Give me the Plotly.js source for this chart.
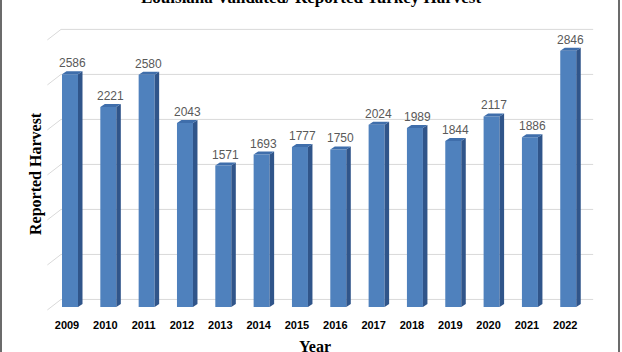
<!DOCTYPE html>
<html><head><meta charset="utf-8">
<script src="https://cdn.plot.ly/plotly-3.0.1.min.js"></script>
<style>html,body{margin:0;padding:0;background:#fff}#chart{width:622px;height:352px}</style>
</head><body><div id="chart"></div>
<script>
// ---- data ----
const years = ['2009','2010','2011','2012','2013','2014','2015','2016','2017','2018','2019','2020','2021','2022'];
const harvest = [2586, 2221, 2580, 2043, 1571, 1693, 1777, 1750, 2024, 1989, 1844, 2117, 1886, 2846];
const gridValues = [0, 500, 1000, 1500, 2000, 2500, 3000];
const chartTitle = 'Louisiana Validated/ Reported Turkey Harvest';
const yTitle = 'Reported Harvest';
const xTitle = 'Year';

// ---- geometry helpers ----
const W = 622, H = 352;
const M = {l: 47, r: 25, t: 27, b: 41};
const xRange = [-0.6, 13.75], yRange = [-45, 3110];
const plotW = W - M.l - M.r, plotH = H - M.t - M.b;
const PX_X = plotW / (xRange[1] - xRange[0]);
const PX_Y = plotH / (yRange[1] - yRange[0]);
const barW = 16 / PX_X;
const depthX = 4.5 / PX_X, depthY = 3 / PX_Y;
const pos = years.map((_, i) => i);

const sideX = [], sideY = [], topX = [], topY = [];
pos.forEach((p, i) => {
  const v = harvest[i];
  const r = p + barW / 2, l = p - barW / 2;
  sideX.push(r, r + depthX, r + depthX, r, r, null);
  sideY.push(0, depthY, v + depthY, v, 0, null);
  topX.push(l, l + depthX, r + depthX, r, l, null);
  topY.push(v, v + depthY, v + depthY, v, v, null);
});

const traces = [
  {type: 'bar', x: pos, y: harvest, width: barW,
   marker: {color: '#4f81bd', line: {width: 0}}, hoverinfo: 'skip'},
  {type: 'scatter', mode: 'lines', x: sideX, y: sideY, fill: 'toself',
   fillcolor: '#30558a', line: {width: 0, color: 'rgba(0,0,0,0)'}, hoverinfo: 'skip'},
  {type: 'scatter', mode: 'lines', x: topX, y: topY, fill: 'toself',
   fillcolor: '#3f6eab', line: {width: 0, color: 'rgba(0,0,0,0)'}, hoverinfo: 'skip'}
];

// back-wall gridlines + left diagonals
const backDX = 14 / PX_X, backDY = 7.5 / PX_Y, frontDY = 3 / PX_Y;
const shapes = [];
gridValues.forEach(v => {
  shapes.push({type: 'line', layer: 'below', xref: 'x', yref: 'y',
    x0: xRange[0] + backDX, x1: xRange[1] - 0.1, y0: v + backDY, y1: v + backDY,
    line: {color: '#d9d9d9', width: 1}});
  shapes.push({type: 'line', layer: 'below', xref: 'x', yref: 'y',
    x0: xRange[0] + 0.01, x1: xRange[0] + backDX, y0: v - frontDY, y1: v + backDY,
    line: {color: '#d9d9d9', width: 1}});
});
// frame lines left and right
const px2paperX = px => (px - M.l) / plotW;
[1, 619].forEach(px => shapes.push({type: 'line', xref: 'paper', yref: 'paper',
  x0: px2paperX(px), x1: px2paperX(px), y0: -0.3, y1: 1.3,
  line: {color: '#6b6b6b', width: 2}}));

const px2paperY = py => (H - M.b - py) / plotH;
const annotations = pos.map((p, i) => ({
  x: p + depthX / 2, y: harvest[i], xref: 'x', yref: 'y', text: String(harvest[i]),
  showarrow: false, yanchor: 'middle', yshift: 11,
  font: {family: 'Liberation Sans, Arial, sans-serif', size: 12, color: '#595959'}
}));
annotations.push({xref: 'paper', yref: 'paper', x: px2paperX(311), y: px2paperY(9),
  xanchor: 'center', yanchor: 'bottom', showarrow: false, text: '<b>' + chartTitle + '</b>',
  font: {family: 'Liberation Serif, Times New Roman, serif', size: 17, color: '#000'}});
annotations.push({xref: 'paper', yref: 'paper', x: px2paperX(36), y: px2paperY(174),
  xanchor: 'center', yanchor: 'middle', textangle: -90, showarrow: false, text: '<b>' + yTitle + '</b>',
  font: {family: 'Liberation Serif, Times New Roman, serif', size: 16, color: '#000'}});
annotations.push({xref: 'paper', yref: 'paper', x: px2paperX(315), y: px2paperY(346),
  xanchor: 'center', yanchor: 'middle', showarrow: false, text: '<b>' + xTitle + '</b>',
  font: {family: 'Liberation Serif, Times New Roman, serif', size: 16, color: '#000'}});

const layout = {
  width: W, height: H,
  margin: {l: M.l, r: M.r, t: M.t, b: M.b, pad: 0},
  paper_bgcolor: '#fff', plot_bgcolor: '#fff',
  showlegend: false,
  xaxis: {range: xRange, tickvals: pos, ticktext: years, showgrid: false, zeroline: false,
    showline: false, ticks: '', ticklabelshift: -3, ticklabelstandoff: 6,
    tickfont: {family: 'Liberation Sans, Arial, sans-serif', size: 11, color: '#000', weight: 'bold'}},
  yaxis: {range: yRange, showgrid: false, zeroline: false, showline: false,
    showticklabels: false, ticks: ''},
  shapes: shapes,
  annotations: annotations
};
Plotly.newPlot('chart', traces, layout, {displayModeBar: false, staticPlot: true});
</script></body></html>
